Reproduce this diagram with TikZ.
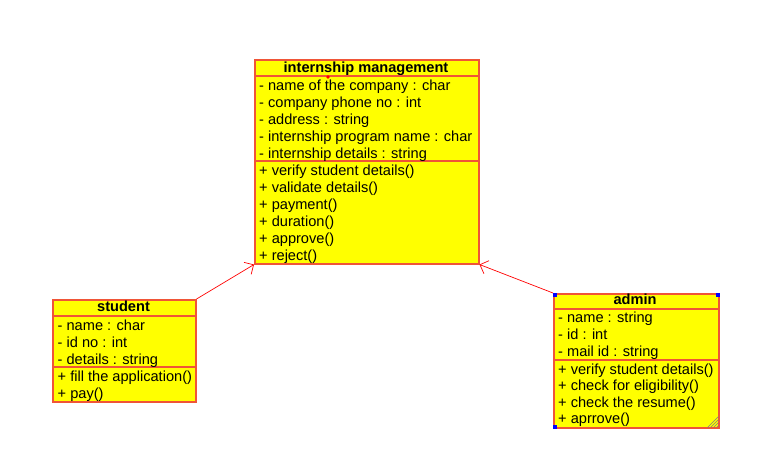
\documentclass[tikz,border=0pt]{standalone}
\usepackage{fontspec}
\setmainfont{Liberation Sans}
\usetikzlibrary{arrows.meta,positioning,calc}
\definecolor{umlfill}{HTML}{FFFF00}
\definecolor{umledge}{RGB}{240,85,55}
\definecolor{handle}{HTML}{0000FF}

\begin{document}
\begin{tikzpicture}[x=1pt,y=-1pt,
			font=\fontsize{14.6}{17}\selectfont,
			box/.style = {draw=umledge, fill=umlfill, line width=1.5pt, anchor=north west, inner sep=0pt},
			title/.style = {font=\fontsize{14.6}{17}\selectfont\bfseries, anchor=base, inner sep=0pt},
			row/.style = {anchor=base west, inner sep=0pt},
			sep/.style = {draw=umledge, line width=1.5pt},
			inh/.style = {draw=red, line width=0.7pt, -{Straight Barb[length=7pt, width=14pt, line width=0.7pt]}},
			grip/.style = {handle, fill=handle},
			]
		
		\useasboundingbox (0,0) rectangle (777,467);
		
		% internship management
		\node[box, minimum width=224, minimum height=204] (im) at (254,59) {};
		\node[title] (im-t) at (366,72.7) {internship management};
		\draw[sep] (im.west |- 0,76) -- (im.east |- 0,76);
		\draw[sep] (im.west |- 0,161) -- (im.east |- 0,161);
		\foreach \t [count=\i] in {- name of the company : char, - company phone no : int,
			- address : string, - internship program name : char, - internship details : string}
		\node[row] (im-a\i) at (259,73+17*\i) {\t};
		\foreach \t [count=\i] in {+ verify student details(), + validate details(), + payment(),
			+ duration(), + approve(), + reject()}
		\node[row] (im-m\i) at (259,158+17*\i) {\t};
		\fill[red] (328,77) circle[radius=1.8pt];
		
		% student
		\node[box, minimum width=143, minimum height=102] (st) at (52,299) {};
		\node[title] (st-t) at (123.5,311.7) {student};
		\draw[sep] (st.west |- 0,316) -- (st.east |- 0,316);
		\draw[sep] (st.west |- 0,367) -- (st.east |- 0,367);
		\foreach \t [count=\i] in {- name : char, - id no : int, - details : string}
		\node[row] (st-a\i) at (57.5,313+17*\i) {\t};
		\foreach \t [count=\i] in {+ fill the application(), + pay()}
		\node[row] (st-m\i) at (57.5,364.5+17*\i) {\t};
		
		% admin
		\node[box, minimum width=165, minimum height=134] (ad) at (553,293) {};
		\node[title] (ad-t) at (635,304.3) {admin};
		\draw[sep] (ad.west |- 0,309) -- (ad.east |- 0,309);
		\draw[sep] (ad.west |- 0,360) -- (ad.east |- 0,360);
		\foreach \t [count=\i] in {- name : string, - id : int, - mail id : string}
		\node[row] (ad-a\i) at (558,305.7+17*\i) {\t};
		\foreach \t [count=\i] in {+ verify student details(), + check for eligibility(),
			+ check the resume(), + aprrove()}
		\node[row] (ad-m\i) at (558,357.5+16.5*\i) {\t};
		% selection handles
		\fill[grip] (ad.north west) rectangle ++(4,4);
		\fill[grip] (ad.north east) rectangle ++(-4,4);
		\fill[grip] (ad.south west) rectangle ++(4,-4);
		\foreach \d in {3,6,9,12}
		\draw[gray, line width=0.6pt] ($(ad.south east)+(-\d,-1)$) -- ($(ad.south east)+(-1,-\d)$);
		
		% generalisations
		\draw[inh] (st.north east) -- (im.south west);
		\draw[inh] (ad.north west) -- (im.south east);
		
\end{tikzpicture}
\end{document}
